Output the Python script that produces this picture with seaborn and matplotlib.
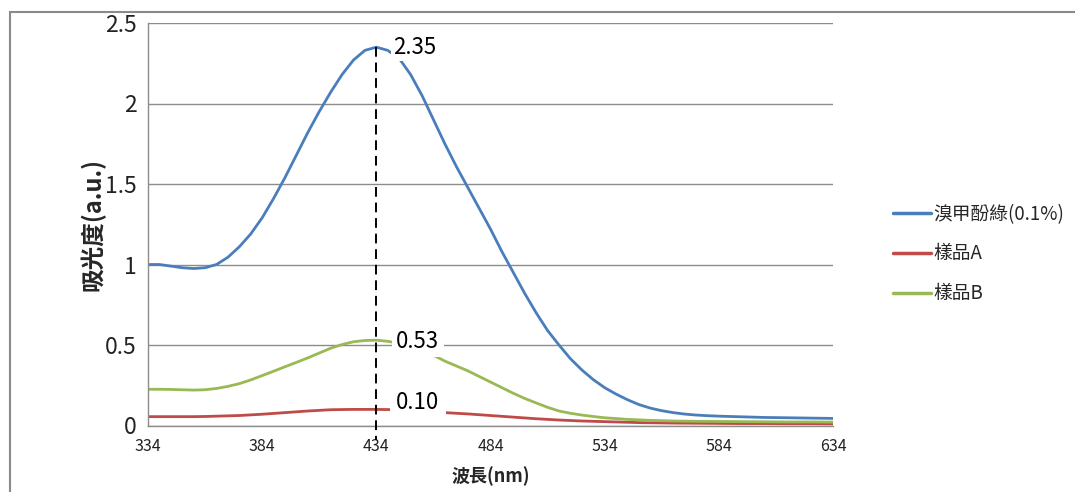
import numpy as np
import pandas as pd
import matplotlib
matplotlib.use("Agg")
import matplotlib.pyplot as plt
from matplotlib.patches import Rectangle
import seaborn as sns

# Wavelength grid (nm) and absorbance readings for each sample
wavelength = [334, 339, 344, 349, 354, 359, 364, 369, 374, 379, 384, 389, 394, 399,
              404, 409, 414, 419, 424, 429, 434, 439, 444, 449, 454, 459, 464, 469,
              474, 479, 484, 489, 494, 499, 504, 509, 514, 519, 524, 529, 534, 539,
              544, 549, 554, 559, 564, 569, 574, 579, 584, 589, 594, 599, 604, 609,
              614, 619, 624, 629, 634]

bcg = [1.00, 1.00, 0.99, 0.98, 0.975, 0.98, 1.00, 1.045, 1.11, 1.19, 1.29, 1.41, 1.54, 1.68,
       1.82, 1.95, 2.07, 2.18, 2.27, 2.33, 2.35, 2.33, 2.28, 2.18, 2.05, 1.90, 1.75, 1.61,
       1.48, 1.35, 1.22, 1.08, 0.95, 0.82, 0.70, 0.59, 0.50, 0.415, 0.345, 0.285, 0.235, 0.195,
       0.16, 0.13, 0.108, 0.092, 0.080, 0.071, 0.065, 0.061, 0.058, 0.056, 0.054, 0.052, 0.050, 0.049,
       0.048, 0.047, 0.046, 0.045, 0.044]

sample_a = [0.055, 0.055, 0.055, 0.055, 0.055, 0.056, 0.058, 0.060, 0.062, 0.066, 0.070, 0.075, 0.080, 0.085,
            0.090, 0.094, 0.098, 0.099, 0.100, 0.100, 0.100, 0.099, 0.098, 0.094, 0.090, 0.085, 0.080, 0.076,
            0.072, 0.067, 0.062, 0.057, 0.052, 0.047, 0.042, 0.038, 0.034, 0.031, 0.028, 0.026, 0.024, 0.022,
            0.020, 0.018, 0.017, 0.016, 0.015, 0.0145, 0.014, 0.0135, 0.013, 0.0125, 0.012, 0.012, 0.012, 0.0115,
            0.011, 0.011, 0.011, 0.0105, 0.010]

sample_b = [0.225, 0.225, 0.224, 0.222, 0.220, 0.222, 0.230, 0.243, 0.260, 0.283, 0.310, 0.337, 0.365, 0.392,
            0.420, 0.450, 0.480, 0.503, 0.520, 0.528, 0.530, 0.523, 0.510, 0.492, 0.470, 0.437, 0.400, 0.370,
            0.340, 0.305, 0.270, 0.235, 0.200, 0.168, 0.140, 0.113, 0.090, 0.076, 0.065, 0.056, 0.048, 0.043,
            0.038, 0.035, 0.032, 0.030, 0.028, 0.027, 0.026, 0.0255, 0.025, 0.0245, 0.024, 0.0235, 0.023, 0.0225,
            0.022, 0.022, 0.022, 0.0215, 0.021]

series_names = ["溴甲酚綠(0.1%)", "樣品A", "樣品B"]
series_colors = ["#4a7ebb", "#be4b48", "#98b954"]

x_ticks = [334, 384, 434, 484, 534, 584, 634]
y_ticks = [0, 0.5, 1, 1.5, 2, 2.5]
y_tick_labels = ["0", "0.5", "1", "1.5", "2", "2.5"]

peak_wavelength = 434
peak_labels = ["2.35", "0.53", "0.10"]

df = pd.concat([
    pd.DataFrame({"wavelength": wavelength, "absorbance": vals, "series": name})
    for name, vals in zip(series_names, [bcg, sample_a, sample_b])
], ignore_index=True)

sns.set_theme(style="white")
plt.rcParams["font.family"] = ["Noto Sans CJK TC", "DejaVu Sans"]

W, H = 1075, 492
fig = plt.figure(figsize=(W / 100, H / 100), dpi=100)
ax = fig.add_axes([148 / W, 1 - 425.5 / H, (833 - 148) / W, (425.5 - 23) / H])

sns.lineplot(data=df, x="wavelength", y="absorbance", hue="series",
             hue_order=series_names, palette=series_colors,
             linewidth=2.0, ax=ax, sort=False)
for line in ax.get_lines():
    line.set_solid_joinstyle("round")

grid_color = "#8c8c8c"
ax.set_xlim(334, 634)
ax.set_ylim(0, 2.5)
ax.set_xticks(x_ticks)
ax.set_xticklabels([str(t) for t in x_ticks], fontsize=11.5)
ax.set_yticks(y_ticks)
ax.set_yticklabels(y_tick_labels, fontsize=16.5)
ax.yaxis.grid(True, color=grid_color, linewidth=1.0)
ax.xaxis.grid(False)
for side in ["top", "right"]:
    ax.spines[side].set_visible(False)
for side in ["left", "bottom"]:
    ax.spines[side].set_color(grid_color)
    ax.spines[side].set_linewidth(1.0)
ax.tick_params(axis="x", direction="out", length=5, width=1, color=grid_color,
               pad=4, labelcolor="#222222")
ax.tick_params(axis="y", direction="out", length=5, width=1, color=grid_color,
               pad=3, labelcolor="#222222")

ax.set_xlabel("波長(nm)", fontsize=13, fontweight="bold", labelpad=8)
ax.set_ylabel("吸光度(a.u.)", fontsize=17, fontweight="bold", labelpad=0)

# Vertical dashed marker at the absorption peak
i_peak = wavelength.index(peak_wavelength)
peak_vals = [bcg[i_peak], sample_b[i_peak], sample_a[i_peak]]
ax.plot([peak_wavelength, peak_wavelength], [max(peak_vals), -0.09],
        color="black", linestyle=(0, (5, 3)), linewidth=1.4, clip_on=False, zorder=4)

# Value labels at the peak wavelength
offsets = [(17, 0), (20, -1), (20, 7)]
pads = [0.1, 0.2, 0.3]
for val, text, off, pad in zip(peak_vals, peak_labels, offsets, pads):
    ax.annotate(text, xy=(peak_wavelength, val), xytext=off, textcoords="offset pixels",
                ha="left", va="center", fontsize=16, color="black",
                bbox=dict(boxstyle=f"square,pad={pad}", facecolor="white", edgecolor="none"),
                zorder=5)

leg = ax.legend(loc="center left", bbox_to_anchor=(893 / W, 1 - 254 / H),
                bbox_transform=fig.transFigure, frameon=False, fontsize=13.5,
                handlelength=2.0, handletextpad=0.15, labelspacing=1.0,
                borderaxespad=0, borderpad=0)
for line in leg.get_lines():
    line.set_linewidth(2.5)

# Outer chart frame
fig.patches.append(Rectangle((10 / W, -0.1), 1.2, 0.1 + 1 - 12 / H,
                             transform=fig.transFigure, fill=False,
                             edgecolor="#8a8a8a", linewidth=1.5, clip_on=False))

fig.savefig("out.png", dpi=100, facecolor="white")
